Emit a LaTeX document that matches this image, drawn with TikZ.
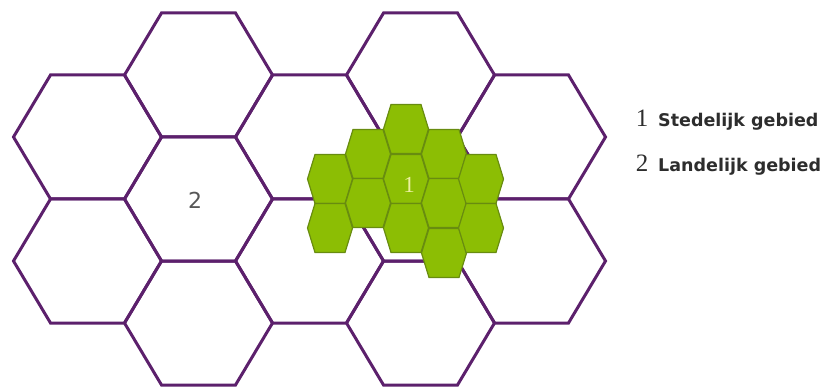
\documentclass[tikz,border=0pt]{standalone}
\usepackage{fontspec}
\newfontfamily\keyfont{DejaVu Sans}
\newfontfamily\numfont{Liberation Serif}
\usetikzlibrary{positioning}

\definecolor{hexpurple}{RGB}{92,32,108}
\definecolor{citygreen}{RGB}{140,190,4}
\definecolor{cityedge}{RGB}{104,140,16}
\definecolor{numyellow}{RGB}{236,240,160}
\definecolor{keygray}{RGB}{45,45,45}

\tikzset{
  bigcell/.style={draw=hexpurple, line width=3pt, line join=miter},
  smallcell/.style={fill=citygreen, draw=cityedge, line width=1.2pt},
}

\begin{document}
\begin{tikzpicture}[x=1pt, y=-1pt]
\useasboundingbox (0,0) rectangle (829,387);

% grote cellen (landelijk)
\foreach \cx/\cy in {87.5/137, 87.5/261, 198.5/75, 198.5/199, 198.5/323,
                     309.5/137, 309.5/261, 420.5/75, 420.5/199, 420.5/323,
                     531.5/137, 531.5/261}
  \draw[bigcell, shift={(\cx,\cy)}] (-74,0) -- (-37,-62) -- (37,-62) -- (74,0)
    -- (37,62) -- (-37,62) -- cycle;

% kleine cellen (stedelijk)
\foreach \cx/\cy in {330/179, 330/228, 368/154, 368/203, 406/129, 406/179,
                     406/228, 444/154, 444/203, 444/253, 481/179, 481/228}
  \draw[smallcell, shift={(\cx,\cy)}] (-22.5,0) -- (-15,-24.5) -- (15,-24.5) -- (22.5,0)
    -- (15,24.5) -- (-15,24.5) -- cycle;

\node[text=numyellow, font=\numfont\fontsize{23}{23}\selectfont, anchor=base, inner sep=0pt] (stad) at (409,193) {1};
\node[text=keygray!80, font=\keyfont\fontsize{22}{22}\selectfont, anchor=base, inner sep=0pt] (land) at (195,209) {2};

% legenda
\node[text=keygray, font=\numfont\fontsize{25}{25}\selectfont, anchor=base, inner sep=0pt] (key1num) at (642,127) {1};
\node[text=keygray, font=\numfont\fontsize{25}{25}\selectfont, anchor=base, inner sep=0pt] (key2num) at (642,172) {2};
\node[text=keygray, font=\keyfont\bfseries\fontsize{17.5}{17.5}\selectfont, anchor=base west, inner sep=0pt] (key1txt) at (658,127) {Stedelijk gebied};
\node[text=keygray, font=\keyfont\bfseries\fontsize{17.5}{17.5}\selectfont, anchor=base west, inner sep=0pt] (key2txt) at (658,172) {Landelijk gebied};
\end{tikzpicture}
\end{document}
